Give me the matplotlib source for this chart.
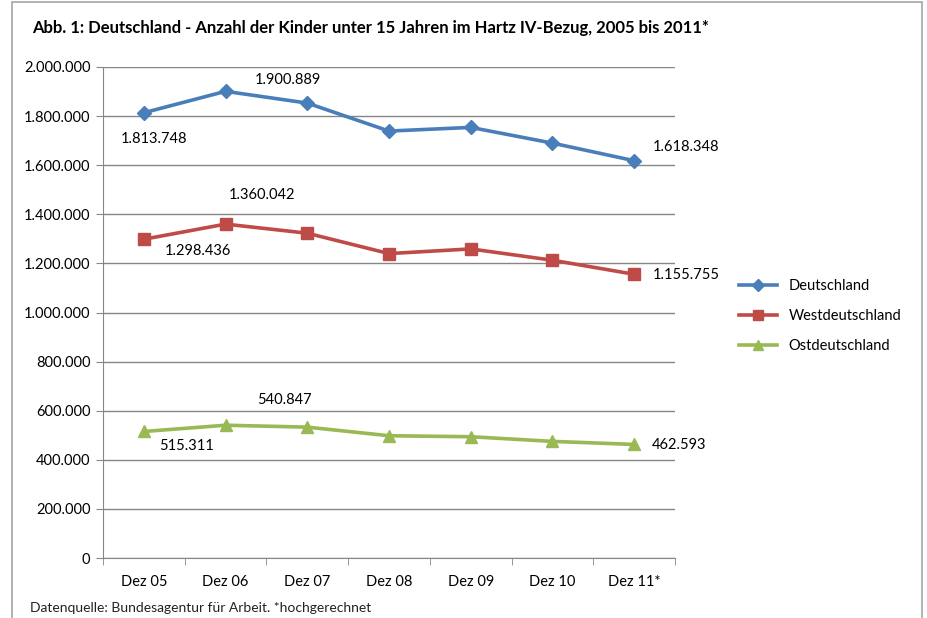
import matplotlib.pyplot as plt
from matplotlib.patches import Rectangle
from matplotlib.ticker import FuncFormatter, FixedLocator

plt.rcParams['font.family'] = ['Lato', 'DejaVu Sans']

jahre = ['Dez 05', 'Dez 06', 'Dez 07', 'Dez 08', 'Dez 09', 'Dez 10', 'Dez 11*']
deutschland = [1813748, 1900889, 1853000, 1739000, 1754000, 1690000, 1618348]
west = [1298436, 1360042, 1323000, 1240000, 1259000, 1213000, 1155755]
ost = [515311, 540847, 533000, 498000, 494000, 475000, 462593]

# which points get a value label, and where (pixel offsets from the point)
labels_d = {0: (10, -26), 1: (62, 11), 6: (52, 14)}
labels_w = {0: (54, -12), 1: (36, 29), 6: (52, -1)}
labels_o = {0: (43, -15), 1: (59, 25), 6: (45, -1)}

fig = plt.figure(figsize=(9.28, 6.18), dpi=100)
W, H = 928, 618
ax = fig.add_axes([103 / W, 1 - 558 / H, 572 / W, 491 / H])

# outer frame
fig.patches.append(Rectangle((12 / W, -0.05), 910 / W, 1.05 - 2 / H, transform=fig.transFigure,
                             fill=False, edgecolor='#a6a6a6', linewidth=1.2))

fig.text(32 / W, 1 - 28 / H, 'Abb. 1: Deutschland - Anzahl der Kinder unter 15 Jahren im Hartz IV-Bezug, 2005 bis 2011*',
         fontsize=12, fontweight='bold', va='center', ha='left')
fig.text(30 / W, 1 - 608 / H, 'Datenquelle: Bundesagentur für Arbeit. *hochgerechnet',
         fontsize=10, va='center', ha='left', color='#222222')

x = list(range(len(jahre)))
series = [
    ('Deutschland', deutschland, '#4a7ebb', 'D', 7, labels_d),
    ('Westdeutschland', west, '#be4b48', 's', 8, labels_w),
    ('Ostdeutschland', ost, '#98b954', '^', 9, labels_o),
]
for name, vals, col, mk, ms, labs in series:
    ax.plot(x, vals, color=col, linewidth=2.6, marker=mk, markersize=ms, label=name, zorder=3)
    for i, (dx, dy) in labs.items():
        ax.annotate(f'{vals[i]:,}'.replace(',', '.'), (x[i], vals[i]), xytext=(dx, dy),
                    textcoords='offset pixels', ha='center', va='center', fontsize=10.5)

ax.set_xlim(-0.5, len(jahre) - 0.5)
ax.set_ylim(0, 2000000)
ax.set_yticks(range(0, 2000001, 200000))
ax.yaxis.set_major_formatter(FuncFormatter(lambda v, p: f'{int(v):,}'.replace(',', '.')))
ax.set_xticks(x)
ax.set_xticklabels(jahre)
ax.xaxis.set_minor_locator(FixedLocator([i - 0.5 for i in range(len(jahre) + 1)]))
ax.tick_params(axis='x', which='major', length=0, pad=12, labelsize=10.5)
ax.tick_params(axis='x', which='minor', length=5, color='#868686')
ax.tick_params(axis='y', length=5, color='#868686', labelsize=10.5, pad=4)

ax.grid(axis='y', color='#868686', linewidth=1)
ax.set_axisbelow(True)
for s in ['top', 'right']:
    ax.spines[s].set_visible(False)
for s in ['left', 'bottom']:
    ax.spines[s].set_color('#868686')

leg = fig.legend(loc='upper left', bbox_to_anchor=(726 / W, 1 - 266 / H), frameon=False,
                 fontsize=10.5, handlelength=2.6, labelspacing=1.1, markerscale=0.85)

fig.savefig('out.png', dpi=100)
